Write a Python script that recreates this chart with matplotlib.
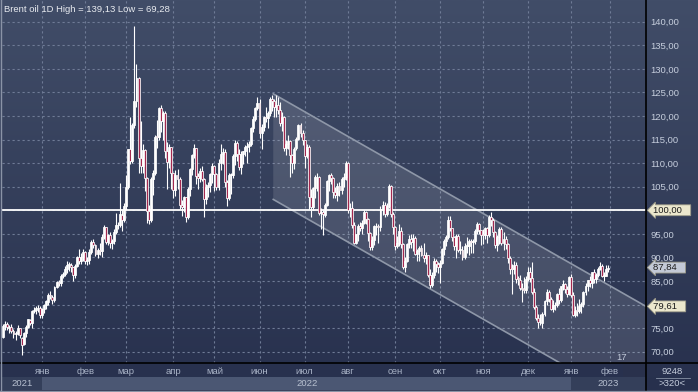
import numpy as np
import matplotlib
matplotlib.use("Agg")
import matplotlib.pyplot as plt
from matplotlib.patches import Polygon, Rectangle
import matplotlib.transforms as mtransforms

# daily Brent candles, 7 Dec 2021 .. 27 Jan 2023 (one row per month)
opens = [
    73.2, 75.4, 75.8, 75.1, 75.3, 74.4, 73.7, 74.0, 75.0, 73.0, 71.6, 74.0, 75.3, 76.8, 76.1, 78.6, 78.9, 79.2, 79.3,
    77.8, 79.0, 80.0, 80.6, 82.0, 81.7, 80.9, 83.7, 84.7, 84.5, 86.1, 86.5, 87.5, 88.4, 88.4, 87.9, 86.3, 88.2, 90.0, 89.3, 90.0,
    91.2, 89.2, 89.5, 91.1, 93.3, 92.7, 90.8, 91.6, 91.4, 94.4, 96.5, 93.3, 94.8, 93.0, 93.5, 95.4, 96.8, 96.8, 99.1, 97.9,
    101.0, 105.0, 112.9, 110.5, 118.1, 123.2, 128.0, 111.1, 109.3, 112.7, 106.9, 99.9, 98.0, 106.6, 107.9, 115.6, 115.5, 121.6, 119.0, 120.7, 112.5, 110.2, 113.5,
    107.9, 104.4, 107.5, 106.6, 101.1, 100.6, 102.8, 98.5, 104.6, 108.8, 111.7, 113.2, 107.3, 106.8, 108.3, 106.7, 102.3, 105.0, 105.3, 107.6,
    109.3, 107.6, 105.0, 110.1, 111.9, 112.4, 105.9, 102.5, 107.5, 107.5, 111.6, 114.2, 111.9, 109.1, 112.0, 112.6, 113.4, 113.6, 114.0, 117.4, 119.4, 121.7,
    122.8, 116.3, 117.6, 119.7, 119.5, 120.6, 123.6, 123.1, 122.0, 122.3, 121.2, 118.5, 119.8, 113.1, 114.1, 114.7, 111.7, 110.1, 113.1, 115.1, 118.0, 116.3,
    114.8, 111.6, 113.5, 102.8, 100.7, 104.7, 107.0, 107.1, 99.5, 99.6, 99.1, 101.2, 106.3, 107.4, 106.9, 103.9, 103.2, 105.2, 104.4, 106.6, 107.1,
    110.0, 100.0, 100.5, 96.8, 93.1, 94.9, 96.7, 96.3, 97.4, 99.6, 98.2, 95.1, 92.3, 93.7, 96.6, 96.7, 96.5, 100.2, 101.2, 99.3, 101.0, 105.1, 99.3,
    96.5, 92.4, 93.0, 95.7, 92.8, 88.0, 89.2, 92.8, 94.0, 93.2, 94.1, 90.8, 91.4, 92.0, 90.6, 89.8, 90.5, 86.2, 84.1, 86.3, 89.3, 88.5,
    88.0, 88.9, 91.8, 93.4, 94.4, 97.9, 96.2, 94.3, 92.5, 94.6, 91.6, 91.6, 90.0, 92.4, 92.4, 93.5, 93.3, 93.5, 95.7, 97.0, 95.8,
    94.8, 94.7, 96.2, 94.7, 98.6, 97.9, 95.4, 92.7, 94.3, 96.0, 93.1, 93.9, 92.9, 89.8, 87.6, 87.5, 88.4, 85.4, 85.3, 83.6, 83.2, 83.0,
    85.4, 86.9, 85.6, 82.7, 79.4, 77.2, 76.2, 76.1, 78.0, 80.7, 82.7, 81.2, 79.0, 79.8, 80.0, 82.2, 81.0, 83.9, 84.3, 83.3, 82.3,
    85.9, 82.1, 77.8, 78.7, 78.6, 79.7, 80.1, 82.7, 84.0, 85.3, 84.5, 86.9, 85.5, 86.2, 87.6, 88.2, 86.1, 86.1, 87.5,
]
highs = [
    75.9, 76.5, 76.2, 75.6, 75.9, 74.8, 74.3, 75.6, 75.1, 73.1, 74.2, 75.6, 76.9, 77.0, 78.8, 79.5, 79.6, 80.0, 79.6,
    79.2, 80.2, 81.0, 82.4, 82.8, 82.1, 83.9, 85.0, 85.2, 86.4, 86.8, 88.1, 89.2, 89.1, 88.8, 88.0, 88.5, 90.2, 91.7, 91.0, 91.7,
    91.3, 90.1, 91.7, 93.7, 94.0, 92.9, 91.9, 93.0, 95.0, 96.8, 96.5, 95.0, 95.3, 93.9, 96.0, 99.5, 97.5, 105.8, 100.0, 101.5,
    107.5, 113.0, 119.8, 118.5, 139.13, 131.0, 128.2, 119.0, 114.0, 113.1, 107.0, 101.2, 107.0, 108.6, 116.0, 119.1, 122.0, 122.4, 121.0, 121.0, 114.5, 114.0, 113.5,
    108.0, 108.5, 108.8, 107.0, 102.2, 103.0, 102.9, 105.0, 109.0, 112.0, 114.0, 113.3, 108.0, 109.0, 109.4, 106.8, 105.5, 106.0, 108.0, 110.0,
    109.7, 108.0, 110.8, 114.0, 113.2, 112.9, 106.5, 108.0, 108.0, 112.0, 115.0, 114.6, 112.9, 112.6, 112.6, 113.8, 114.4, 114.6, 117.7, 119.9, 121.9, 124.0,
    123.5, 118.2, 120.0, 121.9, 121.0, 124.0, 124.5, 123.5, 124.4, 124.0, 123.0, 120.9, 120.0, 115.0, 116.0, 114.8, 112.0, 113.5, 115.5, 118.4, 118.5, 117.0,
    115.0, 114.0, 113.9, 104.5, 105.0, 107.5, 108.0, 107.2, 100.5, 100.0, 101.5, 106.5, 107.7, 108.0, 107.0, 105.0, 105.8, 106.0, 107.0, 108.0, 110.5,
    110.3, 101.5, 102.0, 97.5, 95.0, 97.0, 97.5, 98.0, 100.0, 99.8, 98.3, 95.3, 94.5, 96.9, 97.3, 97.0, 101.0, 102.0, 101.8, 101.5, 105.6, 105.4, 99.7,
    96.7, 94.5, 97.0, 96.5, 93.0, 90.0, 93.0, 94.7, 95.0, 95.0, 94.5, 91.8, 92.5, 92.6, 93.0, 91.2, 90.5, 87.5, 86.8, 89.8, 89.6, 89.0,
    89.4, 92.0, 93.9, 94.7, 98.8, 98.7, 96.3, 94.6, 95.0, 95.0, 93.5, 92.5, 93.0, 94.4, 93.8, 94.0, 93.9, 96.0, 97.5, 97.2, 95.9,
    96.0, 96.5, 96.5, 99.0, 99.6, 98.4, 95.5, 94.7, 96.5, 96.4, 95.3, 94.5, 93.0, 90.2, 88.5, 89.2, 89.0, 86.0, 86.2, 84.5, 85.9, 86.0,
    88.0, 88.0, 89.0, 83.5, 80.0, 78.0, 77.9, 78.5, 81.0, 83.3, 83.0, 81.5, 80.9, 80.5, 82.5, 83.5, 84.0, 85.2, 84.5, 84.0, 86.0,
    86.5, 82.6, 79.6, 80.4, 81.2, 80.5, 82.8, 84.5, 85.3, 86.1, 86.9, 87.6, 86.6, 88.0, 89.1, 88.5, 86.9, 88.3, 88.4,
]
lows = [
    73.0, 74.7, 74.7, 73.9, 73.9, 72.9, 72.4, 73.5, 72.9, 69.28, 71.4, 73.1, 75.1, 75.6, 75.1, 78.3, 78.0, 78.5, 77.2,
    77.1, 78.3, 79.0, 79.8, 81.2, 80.2, 80.5, 83.5, 84.0, 84.0, 85.6, 86.0, 86.6, 87.2, 86.9, 85.1, 85.6, 87.9, 88.6, 88.6, 89.2,
    88.6, 88.4, 88.7, 90.8, 92.0, 90.2, 89.9, 90.6, 90.1, 93.8, 92.9, 92.6, 91.9, 91.8, 92.9, 95.0, 96.0, 96.5, 95.7, 97.5,
    100.0, 104.5, 109.9, 110.0, 117.5, 122.0, 108.0, 108.0, 108.0, 104.0, 97.4, 97.1, 97.5, 103.2, 107.5, 113.3, 115.0, 116.5, 115.0, 111.0, 104.6, 109.0, 104.5,
    102.6, 103.0, 104.5, 100.2, 98.8, 99.7, 97.6, 98.2, 103.0, 107.5, 111.0, 105.6, 104.5, 105.9, 106.3, 98.5, 101.3, 102.8, 103.8, 105.7,
    104.0, 104.4, 104.4, 108.5, 109.9, 104.9, 101.0, 102.2, 103.5, 106.9, 109.5, 110.5, 108.5, 107.6, 109.9, 111.5, 110.0, 112.3, 113.7, 116.6, 118.9, 121.3,
    115.3, 113.0, 116.8, 118.8, 117.5, 120.0, 121.0, 119.8, 119.8, 120.5, 117.8, 116.8, 112.5, 111.8, 113.0, 107.0, 108.0, 108.8, 112.8, 114.9, 115.5, 113.9,
    109.0, 111.0, 100.2, 98.5, 100.0, 102.5, 104.0, 99.0, 96.0, 94.8, 98.5, 100.8, 104.0, 105.5, 102.7, 102.5, 102.0, 103.0, 103.5, 105.0, 106.5,
    99.5, 98.5, 96.2, 92.9, 92.8, 93.5, 95.5, 94.9, 97.0, 97.0, 93.5, 91.5, 91.6, 92.6, 94.8, 93.0, 95.5, 99.0, 98.5, 98.8, 100.5, 98.6, 95.0,
    91.6, 92.0, 92.5, 92.0, 87.5, 87.0, 89.0, 92.0, 91.9, 91.3, 90.5, 89.3, 89.2, 90.2, 89.0, 88.5, 85.8, 83.6, 83.8, 85.6, 86.8, 86.6,
    84.5, 88.5, 90.5, 92.5, 94.0, 95.7, 93.5, 91.5, 89.9, 91.2, 90.8, 89.5, 89.6, 91.0, 90.6, 90.9, 91.0, 92.9, 95.0, 95.0, 92.7,
    92.9, 93.9, 93.0, 94.3, 96.6, 94.3, 92.0, 91.4, 92.9, 92.7, 91.6, 91.8, 88.9, 86.5, 82.3, 86.5, 84.5, 84.1, 83.0, 80.6, 82.5, 82.5,
    85.0, 84.8, 82.2, 79.0, 76.7, 75.1, 75.7, 75.0, 77.5, 80.0, 80.5, 78.8, 78.5, 78.8, 79.5, 80.2, 80.5, 83.0, 82.5, 81.5, 82.0,
    81.6, 77.6, 77.3, 77.6, 78.3, 78.3, 79.5, 82.0, 82.8, 83.8, 83.5, 84.5, 84.5, 85.8, 87.3, 85.9, 85.0, 86.0, 86.9,
]
closes = [
    75.4, 75.8, 75.2, 75.2, 74.4, 73.7, 73.9, 75.0, 73.5, 71.5, 74.0, 75.3, 76.85, 76.1, 78.6, 78.9, 79.2, 79.3, 77.8,
    79.0, 80.0, 80.8, 82.0, 81.75, 80.9, 83.7, 84.7, 84.5, 86.1, 86.5, 87.5, 88.4, 88.4, 87.9, 86.3, 88.2, 90.0, 89.3, 90.0, 91.2,
    89.2, 89.5, 91.1, 93.3, 92.7, 90.8, 91.6, 91.4, 94.4, 96.5, 93.3, 94.8, 93.0, 93.5, 95.4, 96.8, 96.8, 99.1, 97.9, 101.0,
    105.0, 112.9, 110.5, 118.1, 123.2, 128.0, 111.1, 109.3, 112.7, 106.9, 99.9, 98.0, 106.6, 107.9, 115.6, 115.5, 121.6, 119.0, 120.7, 112.5, 110.2, 113.5, 107.9,
    104.4, 107.5, 106.6, 101.1, 100.6, 102.8, 98.5, 104.6, 108.8, 111.7, 113.2, 107.3, 106.8, 108.3, 106.7, 102.3, 105.0, 105.3, 107.6, 109.3,
    107.6, 105.0, 110.1, 111.9, 112.4, 105.9, 102.5, 107.5, 107.5, 111.6, 114.2, 111.9, 109.1, 112.0, 112.6, 113.4, 113.6, 114.0, 117.4, 119.4, 121.7, 122.8,
    116.3, 117.6, 119.7, 119.5, 120.6, 123.6, 123.1, 122.0, 122.3, 121.2, 118.5, 119.8, 113.1, 114.1, 114.7, 111.7, 110.1, 113.1, 115.1, 118.0, 116.3, 114.8,
    111.6, 113.5, 102.8, 100.7, 104.7, 107.0, 107.1, 99.5, 99.6, 99.1, 101.2, 106.3, 107.4, 106.9, 103.9, 103.2, 105.2, 104.4, 106.6, 107.1, 110.0,
    100.0, 100.5, 96.8, 93.1, 94.9, 96.7, 96.3, 97.4, 99.6, 98.2, 95.1, 92.3, 93.7, 96.6, 96.7, 96.5, 100.2, 101.2, 99.3, 101.0, 105.1, 99.3, 96.5,
    92.4, 93.0, 95.7, 92.8, 88.0, 89.2, 92.8, 94.0, 93.2, 94.1, 90.8, 91.4, 92.0, 90.6, 89.8, 90.5, 86.2, 84.1, 86.3, 89.3, 88.5, 88.0,
    88.9, 91.8, 93.4, 94.4, 97.9, 96.2, 94.3, 92.5, 94.6, 91.6, 91.6, 90.0, 92.4, 92.4, 93.5, 93.3, 93.5, 95.7, 97.0, 95.8, 94.8,
    94.7, 96.2, 94.7, 98.6, 97.9, 95.4, 92.7, 94.3, 96.0, 93.1, 93.9, 92.9, 89.8, 87.6, 87.5, 88.4, 85.4, 85.3, 83.6, 83.2, 83.0, 85.4,
    86.9, 85.6, 82.7, 79.4, 77.2, 76.2, 76.1, 78.0, 80.7, 82.7, 81.2, 79.0, 79.8, 80.0, 82.2, 81.0, 83.9, 84.3, 83.3, 82.3, 85.9,
    82.1, 77.8, 78.7, 78.6, 79.7, 80.1, 82.7, 84.0, 85.3, 84.5, 86.9, 85.5, 86.2, 87.6, 88.2, 86.1, 86.1, 87.5, 87.84,
]

# first bar of each month (bar index) and its label
month_start = [19, 40, 60, 83, 103, 125, 147, 168, 191, 213, 234, 256, 277, 296]
month_names = ["янв", "фев", "мар", "апр", "май", "июн", "июл", "авг", "сен", "окт", "ноя", "дек", "янв", "фев"]
year_names = ["2021", "2022", "2023"]
year_edges = [-0.6, 19, 277, 313.5]

price_ticks = list(range(70, 145, 5))
level = 100.0
last_price = 87.84
channel_end = 79.61

# descending channel: two bar positions, top-line prices, channel height
chan_x = [131.7, 313.5]
chan_top = [124.7, channel_end]
chan_height = 22.4

W, H = 698, 392
FONT = "Liberation Sans"
FS = 6.8
fig = plt.figure(figsize=(W / 100, H / 100), dpi=100)

# dark blue gradient background
bg = fig.add_axes([0, 0, 1, 1], zorder=-10)
t = np.linspace(0, 1, 256)[:, None, None]
c_top = np.array([0x41, 0x4d, 0x68]) / 255
c_bot = np.array([0x27, 0x30, 0x4d]) / 255
bg.imshow(c_top * (1 - t) + c_bot * t, aspect="auto", extent=[0, 1, 0, 1])
bg.set_xlim(0, 1)
bg.set_ylim(0, 1)
bg.axis("off")

ax = fig.add_axes([2 / W, 29 / H, 644 / W, 363 / H])
ax.patch.set_alpha(0)
ax.set_xlim(year_edges[0], year_edges[-1])
ax.set_ylim(67.6, 144.6)

grid_col = "#6f7b96"
for p in price_ticks:
    ax.axhline(p, color=grid_col, lw=0.8, ls=(0, (2, 2.5)), zorder=1)
for m in month_start:
    ax.axvline(m, color=grid_col, lw=0.8, ls=(0, (2, 2.5)), zorder=1)

# channel
cx = np.array(chan_x)
ct = np.array(chan_top)
poly = Polygon(list(zip(cx, ct)) + list(zip(cx[::-1], ct[::-1] - chan_height)),
               closed=True, fc=(1, 1, 1, 0.12), ec="none", zorder=2)
ax.add_patch(poly)
ax.plot(cx, ct, color="#8e97a8", lw=1.2, zorder=2)
ax.plot(cx, ct - chan_height, color="#8e97a8", lw=1.2, zorder=2)

ax.axhline(level, color="white", lw=1.3, zorder=3)

# candles
o = np.array(opens)
h = np.array(highs)
l = np.array(lows)
c = np.array(closes)
idx = np.arange(len(c))
ax.vlines(idx, l, h, color="white", lw=0.8, zorder=4)
faces = np.where(c >= o, "white", "#a3284f")
body = np.where(np.abs(c - o) < 0.15, 0.15, c - o)
ax.bar(idx, body, bottom=o, width=0.95, color=faces, edgecolor="white", linewidth=0.55, zorder=5)

for s in ["top", "left", "right", "bottom"]:
    ax.spines[s].set_visible(False)

lab_col = "#c6cedd"
hidden = {level, 80}
ax.yaxis.tick_right()
ax.set_yticks(price_ticks)
ax.set_yticklabels(["" if p in hidden else f"{p:.2f}".replace(".", ",") for p in price_ticks],
                   fontfamily=FONT)
ax.tick_params(axis="y", length=0, pad=3, labelsize=FS, labelcolor=lab_col)
ax.set_xticks(month_start)
ax.set_xticklabels(month_names, fontfamily=FONT)
ax.tick_params(axis="x", length=0, pad=3, labelsize=FS, labelcolor="#a9b3c6")

# price tags on the right scale
trans = mtransforms.blended_transform_factory(ax.transAxes, ax.transData)
tags = [(level, "#ebe7cd"), (last_price, "#c3c9d6"), (channel_end, "#ebe7cd")]
for val, fc in tags:
    ax.text(1.0 + 7 / 644, val, f"{val:.2f}".replace(".", ",") + "   ", transform=trans,
            ha="left", va="center", fontsize=FS, fontfamily=FONT, color="#1c1c1c",
            clip_on=False, zorder=10,
            bbox=dict(boxstyle="larrow,pad=0.1", fc=fc, ec="#9c9a88", lw=0.6))

# year strip
yax = fig.add_axes([2 / W, 2 / H, 644 / W, 13 / H])
yax.set_xlim(year_edges[0], year_edges[-1])
yax.set_ylim(0, 1)
yax.axis("off")
band_cols = ["#343f5a", "#4b5773", "#343f5a"]
for i, name in enumerate(year_names):
    x0, x1 = year_edges[i], year_edges[i + 1]
    yax.axvspan(x0, x1, color=band_cols[i], lw=0)
    yax.text((x0 + x1) / 2, 0.5, name, ha="center", va="center", fontsize=FS,
             fontfamily=FONT, color="#b7c0d0")

# scroll box in the bottom-right of the time scale
fig.add_artist(Rectangle((623 / W, 4 / H), 23 / W, 25 / H, transform=fig.transFigure,
                         fc="#29314c", ec="none", zorder=-1))

# frame lines
fig.add_artist(plt.Line2D([0, 1], [29 / H, 29 / H], color="black", lw=1.2))
fig.add_artist(plt.Line2D([646 / W, 646 / W], [0, 1], color="black", lw=1.2))
fig.add_artist(plt.Line2D([0.7 / W, 0.7 / W], [0, 1], color="#8a93a6", lw=1.0))
fig.add_artist(plt.Line2D([0, 1], [0.8 / H, 0.8 / H], color="#8a93a6", lw=1.0))

fig.text(4 / W, 1 - 9 / H, "Brent oil 1D High = 139,13 Low = 69,28", fontsize=FS,
         fontfamily=FONT, color="#e8ebf0", va="center", ha="left")
fig.text(622 / W, 1 - 358 / H, "17", fontsize=FS, fontfamily=FONT, color="#c0c8d8",
         va="center", ha="center")
fig.text(672 / W, 1 - 371 / H, "9248", fontsize=FS, fontfamily=FONT, color=lab_col,
         va="center", ha="center")
fig.text(672 / W, 1 - 384 / H, ">320<", fontsize=FS, fontfamily=FONT, color=lab_col,
         va="center", ha="center")
fig.add_artist(plt.Line2D([656 / W, 690 / W], [1 - 378 / H, 1 - 378 / H], color="#8791a5", lw=0.6))

fig.savefig("out.png", dpi=100)
